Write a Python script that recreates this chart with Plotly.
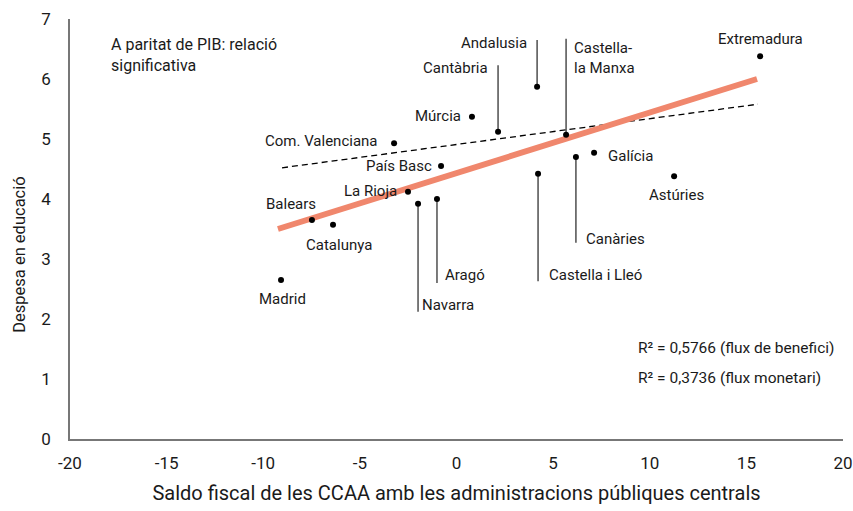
import plotly.graph_objects as go

# comunitats autonomes: saldo fiscal (x) vs despesa en educacio (y)
regions = ["Extremadura", "Andalusia", "Castella-<br>la Manxa", "Cantàbria", "Múrcia",
           "Com. Valenciana", "País Basc", "La Rioja", "Navarra", "Aragó", "Balears",
           "Catalunya", "Madrid", "Castella i Lleó", "Canàries", "Galícia", "Astúries"]
saldo = [15.71, 4.17, 5.67, 2.15, 0.80, -3.23, -0.80, -2.51, -1.99, -1.01, -7.48,
         -6.39, -9.08, 4.22, 6.18, 7.12, 11.26]
despesa = [6.38, 5.87, 5.07, 5.12, 5.37, 4.93, 4.55, 4.12, 3.92, 4.00, 3.65,
           3.57, 2.65, 4.42, 4.70, 4.77, 4.38]

x_ticks = [-20, -15, -10, -5, 0, 5, 10, 15, 20]
x_labels = ["-20", "-15", "-10", "-5", "0", "5", "10", "15", "20"]

# rectes de tendencia (extrems llegits del grafic)
benefici_x = [-9.24, 15.55]
benefici_y = [3.50, 6.00]
monetari_x = [-9.03, 15.60]
monetari_y = [4.52, 5.58]

# linies guia: regio -> y final de la linia
leaders = {"Andalusia": 6.65, "Castella-<br>la Manxa": 6.67, "Cantàbria": 6.23,
           "Navarra": 2.12, "Aragó": 2.60, "Castella i Lleó": 2.63, "Canàries": 3.27}

# posicio del text: (xanchor, yanchor, xshift, yshift) relatiu al punt o al final de la guia
label_pos = {
    "Extremadura": ("center", "middle", 0, 17),
    "Andalusia": ("right", "middle", -8, -3),
    "Castella-<br>la Manxa": ("left", "top", 6, 2),
    "Cantàbria": ("right", "middle", -8, -3),
    "Múrcia": ("right", "middle", -9, 1),
    "Com. Valenciana": ("right", "middle", -14, 2),
    "País Basc": ("right", "middle", -7, 0),
    "La Rioja": ("right", "middle", -9, 1),
    "Navarra": ("left", "middle", 2, 7),
    "Aragó": ("left", "middle", 6, 8),
    "Balears": ("center", "middle", -21, 16),
    "Catalunya": ("center", "middle", 6, -20),
    "Madrid": ("center", "middle", 1, -19),
    "Castella i Lleó": ("left", "middle", 9, 6),
    "Canàries": ("left", "middle", 8, 4),
    "Galícia": ("left", "middle", 12, -3),
    "Astúries": ("center", "middle", 2, -19),
}

fnt = "Roboto"
txt = "#1a1a1a"
fig = go.Figure()

for name, yend in leaders.items():
    i = regions.index(name)
    fig.add_trace(go.Scatter(x=[saldo[i], saldo[i]], y=[despesa[i], yend], mode="lines",
                             line=dict(color="#333333", width=1.3), hoverinfo="skip",
                             showlegend=False))

fig.add_trace(go.Scatter(x=monetari_x, y=monetari_y, mode="lines",
                         line=dict(color="black", width=1.3, dash="6px,4px"),
                         showlegend=False))
fig.add_trace(go.Scatter(x=benefici_x, y=benefici_y, mode="lines",
                         line=dict(color="#F0876D", width=6), showlegend=False))
fig.add_trace(go.Scatter(x=saldo, y=despesa, mode="markers",
                         marker=dict(color="black", size=6), showlegend=False))

for i, name in enumerate(regions):
    xa, ya, dx, dy = label_pos[name]
    yy = leaders.get(name, despesa[i])
    fig.add_annotation(x=saldo[i], y=yy, text=name, showarrow=False, xanchor=xa,
                       yanchor=ya, xshift=dx, yshift=dy, align="left",
                       font=dict(family=fnt, size=15, color=txt))

fig.add_annotation(x=-18, y=6.4, xref="x", yref="y", text="A paritat de PIB: relació<br>significativa",
                   showarrow=False, xanchor="left", yanchor="middle", align="left",
                   font=dict(family=fnt, size=16, color=txt))
fig.add_annotation(x=9.3, y=1.51, text="R² = 0,5766 (flux de benefici)", showarrow=False,
                   xanchor="left", yanchor="middle", font=dict(family=fnt, size=15.5, color=txt))
fig.add_annotation(x=9.3, y=1.02, text="R² = 0,3736 (flux monetari)", showarrow=False,
                   xanchor="left", yanchor="middle", font=dict(family=fnt, size=15.5, color=txt))

# titol de l'eix y una mica per sota del centre, com a l'original
fig.add_annotation(x=0, xref="paper", y=3.07, yref="y", xshift=-50, text="Despesa en educació",
                   textangle=-90, showarrow=False, xanchor="center", yanchor="middle",
                   font=dict(family=fnt, size=16.5, color=txt))

# marques nomes als extrems dels eixos
fig.add_shape(type="line", xref="x", yref="y", xsizemode="pixel", xanchor=-20,
              x0=-6, x1=0, y0=7, y1=7, line=dict(color="#777777", width=1.5))
fig.add_shape(type="line", xref="x", yref="y", ysizemode="pixel", yanchor=0,
              x0=20, x1=20, y0=-5, y1=0, line=dict(color="#777777", width=1.5))

fig.update_layout(
    width=853, height=511, margin=dict(l=70, r=10, t=19, b=72),
    plot_bgcolor="white", paper_bgcolor="white",
    font=dict(family=fnt, color=txt),
    xaxis=dict(range=[-20, 20], tickvals=x_ticks, ticktext=x_labels, showgrid=False,
               zeroline=False, showline=True, linecolor="#777777", linewidth=1.5,
               ticks="", tickfont=dict(size=17, color=txt), ticklabelstandoff=8,
               automargin=False,
               title=dict(text="Saldo fiscal de les CCAA amb les administracions públiques centrals",
                          font=dict(size=20, color=txt), standoff=14)),
    yaxis=dict(range=[0, 7], dtick=1, showgrid=False, zeroline=False, showline=True,
               linecolor="#777777", linewidth=1.5, ticks="", automargin=False,
               tickfont=dict(size=17, color=txt), ticklabelstandoff=14),
)

fig.write_html("out.html", config={"displayModeBar": False},
               post_script="document.body.style.margin='0';")
